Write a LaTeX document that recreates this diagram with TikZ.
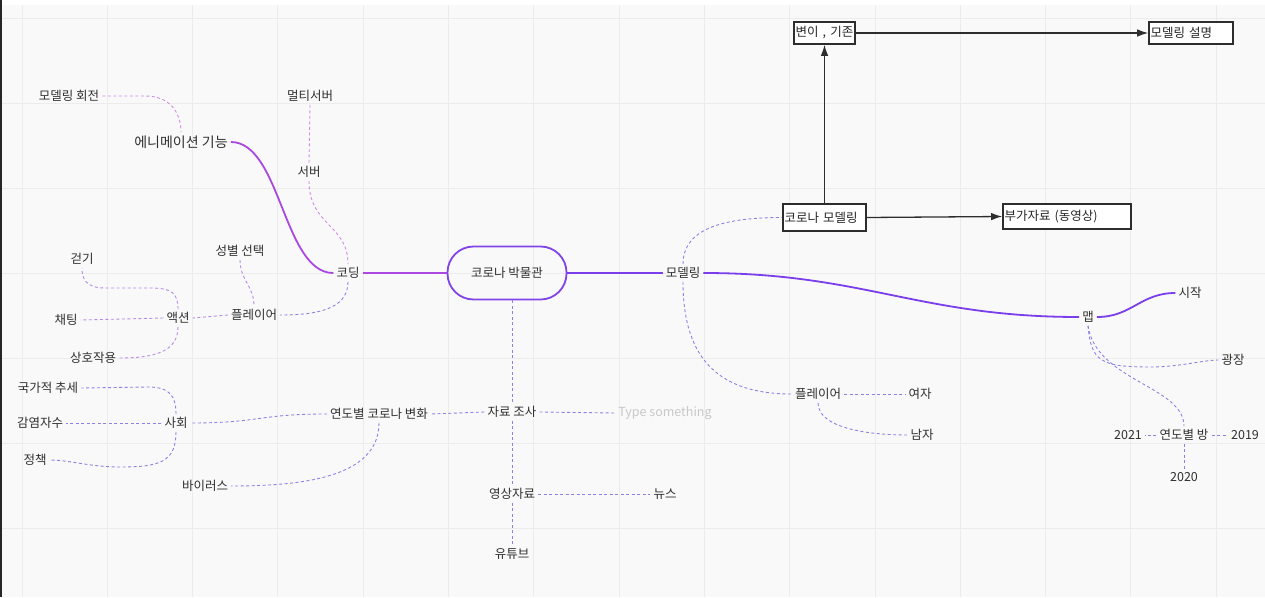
\documentclass[tikz,border=0pt]{standalone}
\usepackage{fontspec}
\setmainfont{Noto Sans CJK KR}
\usetikzlibrary{arrows.meta}
\definecolor{bgc}{RGB}{249,249,249}
\definecolor{gridc}{RGB}{236,236,236}
\definecolor{txt}{RGB}{48,48,48}
\definecolor{solL}{RGB}{170,72,225}
\definecolor{solR}{RGB}{122,62,235}
\definecolor{musc}{RGB}{128,68,232}
\definecolor{dpink}{RGB}{212,140,232}
\definecolor{dlav}{RGB}{182,140,232}
\definecolor{dblue}{RGB}{140,130,230}
\definecolor{arrc}{RGB}{45,45,45}
\definecolor{ghost}{RGB}{200,200,200}
\begin{document}
\begin{tikzpicture}[x=1pt,y=-1pt,
  lbl/.style={font=\fontsize{12.5}{14}\selectfont, text=txt, inner sep=3pt},
  biglbl/.style={lbl, font=\fontsize{14}{16}\selectfont},
  museum/.style={lbl, draw=musc, line width=1.8pt, rounded corners=26pt, minimum width=119pt, minimum height=53pt},
  boxnode/.style={font=\fontsize{12.5}{14}\selectfont, text=black!85, draw=arrc, line width=1.6pt, fill=white, inner sep=1.5pt, align=left},
  solidL/.style={draw=solL, line width=1.8pt},
  solidR/.style={draw=solR, line width=1.8pt},
  dashP/.style={draw=dpink, line width=0.9pt, dash pattern=on 3pt off 2.5pt},
  dashL/.style={draw=dlav, line width=0.9pt, dash pattern=on 3pt off 2.5pt},
  dashB/.style={draw=dblue, line width=0.9pt, dash pattern=on 3pt off 2.5pt},
  arrow/.style={draw=arrc, line width=1.3pt, -{Latex[length=11pt,width=7.5pt]}}
]
\useasboundingbox (0,0) rectangle (1265,597);
% background
\fill[bgc] (0,0) rectangle (1265,597);
\fill[white] (0,0) rectangle (1265,5);
\foreach \i in {0,...,14} {\draw[gridc, line width=1pt] ({22+85.3*\i},5) -- ({22+85.3*\i},597);}
\foreach \j in {0,...,6} {\draw[gridc, line width=1pt] (0,{18+85*\j}) -- (1265,{18+85*\j});}
\draw[black!85, line width=2pt] (1,0) -- (1,597);

% nodes
\node[museum] (mus) at (507,273) {코로나 박물관};
\node[lbl] (coding) at (348,273) {코딩};
\node[biglbl] (anim) at (181,142) {에니메이션 기능};
\node[lbl] (mrot) at (69,96) {모델링 회전};
\node[lbl] (multi) at (310,96) {멀티서버};
\node[lbl] (server) at (309,172) {서버};
\node[lbl] (gender) at (240,251) {성별 선택};
\node[lbl] (playL) at (254,315) {플레이어};
\node[lbl] (walk) at (82,259) {걷기};
\node[lbl] (action) at (178,318) {액션};
\node[lbl] (chat) at (66,320) {채팅};
\node[lbl] (inter) at (93,358) {상호작용};
\node[lbl] (nation) at (48,388) {국가적 추세};
\node[lbl] (infect) at (40,423) {감염자수};
\node[lbl] (society) at (176,423) {사회};
\node[lbl] (policy) at (35,460) {정책};
\node[lbl] (yearly) at (379,414) {연도별 코로나 변화};
\node[lbl] (virus) at (205,486) {바이러스};
\node[lbl] (research) at (512,412) {자료 조사};
\node[lbl, text=ghost] (typesth) at (665,413) {Type something};
\node[lbl] (video) at (512,494) {영상자료};
\node[lbl] (news) at (665,494) {뉴스};
\node[lbl] (youtube) at (512,554) {유튜브};
\node[lbl] (modeling) at (683,273) {모델링};
\node[boxnode, text width=80pt, minimum height=27pt] (cmodel) at (824.5,217.5) {코로나 모델링};
\node[boxnode, text width=125pt, minimum height=25pt] (extra) at (1067,216.5) {부가자료 (동영상)};
\node[boxnode, text width=58pt, minimum height=22pt] (variant) at (824.5,33) {변이 , 기존};
\node[boxnode, text width=81pt, minimum height=22pt] (mdesc) at (1191,33) {모델링 설명};
\node[lbl] (map) at (1088,317) {맵};
\node[lbl] (start) at (1190,293) {시작};
\node[lbl] (plaza) at (1233,360) {광장};
\node[lbl] (playR) at (818,394) {플레이어};
\node[lbl] (female) at (920,394) {여자};
\node[lbl] (male) at (922,435) {남자};
\node[lbl] (yroom) at (1184,435) {연도별 방};
\node[lbl] (y2021) at (1128,435) {2021};
\node[lbl] (y2019) at (1245,435) {2019};
\node[lbl] (y2020) at (1184,477) {2020};

% solid branches
\draw[solidL] (mus.west) -- (coding.east);
\draw[solidL] (anim.east) .. controls +(50,0) and +(-50,0) .. (coding.west);
\draw[solidR] (mus.east) -- (modeling.west);
\draw[solidR] (modeling.east) .. controls +(160,0) and +(-160,0) .. (map.west);
\draw[solidR] (map.east) .. controls +(35,0) and +(-35,0) .. (start.west);

% dashed branches, upper left
\draw[dashP] (mrot.east) -- (145,96) .. controls +(25,0) and +(0,-20) .. (anim.north);
\draw[dashP] (multi.south) -- (server.north);
\draw[dashP] (server.south) .. controls +(0,45) and +(0,-40) .. (coding.north);
\draw[dashB] (coding.south) .. controls +(0,28) and +(35,0) .. (playL.east);
\draw[dashL] (gender.south) .. controls +(0,20) and +(0,-20) .. (playL.north);
\draw[dashL] (playL.west) -- (action.east);
\draw[dashL] (action.north) .. controls +(0,-16) and +(22,0) .. (150,288) -- (105,288) .. controls +(-20,0) and +(0,10) .. (walk.south);
\draw[dashL] (action.west) -- (chat.east);
\draw[dashL] (action.south) .. controls +(0,25) and +(35,0) .. (inter.east);

% dashed branches, lower left
\draw[dashB] (society.north) .. controls +(0,-18) and +(22,0) .. (148,387) -- (nation.east);
\draw[dashB] (society.west) -- (infect.east);
\draw[dashB] (society.south) .. controls +(0,30) and +(40,0) .. (120,467) .. controls +(-30,0) and +(20,0) .. (policy.east);
\draw[dashB] (yearly.west) .. controls +(-70,0) and +(70,0) .. (society.east);
\draw[dashB] (yearly.south) .. controls +(0,55) and +(70,0) .. (virus.east);
\draw[dashB] (research.west) -- (yearly.east);
\draw[dashB] (research.east) -- (typesth.west);
\draw[dashB] (mus.south -| research.north) -- (research.north);
\draw[dashB] (research.south) -- (video.north);
\draw[dashB] (video.south) -- (youtube.north);
\draw[dashB] (video.east) -- (news.west);

% dashed branches, right
\draw[dashB] (modeling.north) .. controls +(0,-35) and +(-60,0) .. (cmodel.west);
\draw[dashB] (modeling.south) .. controls +(0,80) and +(-70,0) .. (playR.west);
\draw[dashB] (playR.east) -- (female.west);
\draw[dashB] (playR.south) .. controls +(0,25) and +(-40,0) .. (male.west);
\draw[dashB] (map.south) .. controls +(3,35) and +(-50,0) .. (1150,367) .. controls +(30,0) and +(-15,0) .. (plaza.west);
\draw[dashB] (map.south) .. controls +(8,55) and +(0,-40) .. (yroom.north);
\draw[dashB] (yroom.west) -- (y2021.east);
\draw[dashB] (yroom.east) -- (y2019.west);
\draw[dashB] (yroom.south) -- (y2020.north);

% black arrows
\draw[arrow] (cmodel.east) -- (extra.west);
\draw[arrow] (cmodel.north) -- (variant.south);
\draw[arrow] (variant.east) -- (mdesc.west);
\end{tikzpicture}
\end{document}
